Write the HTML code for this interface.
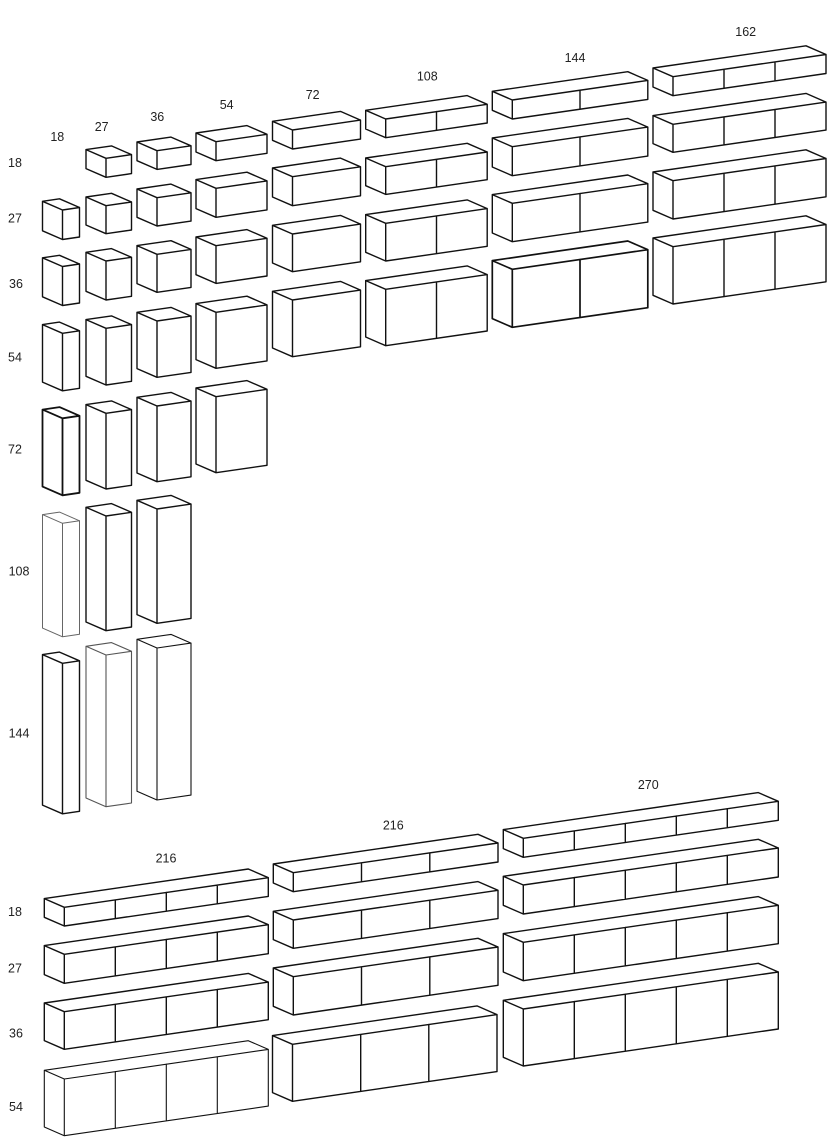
<!DOCTYPE html>
<html><head><meta charset="utf-8"><style>
html,body{margin:0;padding:0;background:#fff;}
svg{display:block;}
text{font-family:"Liberation Sans",sans-serif;font-size:12.5px;fill:#222;text-anchor:middle;}
</style></head><body>
<svg width="837" height="1145" viewBox="0 0 837 1145" xmlns="http://www.w3.org/2000/svg">
<g fill="none" stroke="#111" stroke-width="1.4" stroke-linejoin="round" stroke-linecap="round">
<!-- col 18 -->
<path d="M42.5 201.3L62.5 210L79.5 207.5L59.5 198.8ZM42.5 201.3L42.5 230.8L62.5 239.5L79.5 237L79.5 207.5M62.5 210L62.5 239.5"/>
<path d="M42.5 257.8L62.5 266.5L79.5 264L59.5 255.3ZM42.5 257.8L42.5 296.8L62.5 305.5L79.5 303L79.5 264M62.5 266.5L62.5 305.5"/>
<path d="M42.5 324.6L62.5 333.3L79.5 330.8L59.5 322.1ZM42.5 324.6L42.5 382.1L62.5 390.8L79.5 388.3L79.5 330.8M62.5 333.3L62.5 390.8"/>
<path stroke-width="1.8" d="M42.5 409.6L62.5 418.3L79.5 415.8L59.5 407.1ZM42.5 409.6L42.5 486.6L62.5 495.3L79.5 492.8L79.5 415.8M62.5 418.3L62.5 495.3"/>
<path stroke="#666" stroke-width="1" d="M42.5 514.6L62.5 523.3L79.5 520.8L59.5 512.1ZM42.5 514.6L42.5 628.1L62.5 636.8L79.5 634.3L79.5 520.8M62.5 523.3L62.5 636.8"/>
<path d="M42.5 654.6L62.5 663.3L79.5 660.8L59.5 652.1ZM42.5 654.6L42.5 805.1L62.5 813.8L79.5 811.3L79.5 660.8M62.5 663.3L62.5 813.8"/>
<!-- col 27 -->
<path d="M86 149.6L106 158.3L131.5 154.6L111.5 145.9ZM86 149.6L86 168.6L106 177.3L131.5 173.6L131.5 154.6M106 158.3L106 177.3"/>
<path d="M86 197L106 205.7L131.5 202L111.5 193.3ZM86 197L86 225L106 233.7L131.5 230L131.5 202M106 205.7L106 233.7"/>
<path d="M86 252.3L106 261L131.5 257.3L111.5 248.6ZM86 252.3L86 291.3L106 300L131.5 296.3L131.5 257.3M106 261L106 300"/>
<path d="M86 319.6L106 328.3L131.5 324.6L111.5 315.9ZM86 319.6L86 376.3L106 385L131.5 381.3L131.5 324.6M106 328.3L106 385"/>
<path d="M86 404.6L106 413.3L131.5 409.6L111.5 400.9ZM86 404.6L86 480.3L106 489L131.5 485.3L131.5 409.6M106 413.3L106 489"/>
<path d="M86 507.3L106 516L131.5 512.3L111.5 503.6ZM86 507.3L86 622L106 630.7L131.5 627L131.5 512.3M106 516L106 630.7"/>
<path stroke="#555" stroke-width="1.1" d="M86 646.3L106 655L131.5 651.3L111.5 642.6ZM86 646.3L86 798L106 806.7L131.5 803L131.5 651.3M106 655L106 806.7"/>
<!-- col 36 -->
<path d="M137 142L157 150.7L191 145.8L171 137.1ZM137 142L137 160.7L157 169.4L191 164.5L191 145.8M157 150.7L157 169.4"/>
<path d="M137 189L157 197.7L191 192.8L171 184.1ZM137 189L137 217.3L157 226L191 221.1L191 192.8M157 197.7L157 226"/>
<path d="M137 245.6L157 254.3L191 249.4L171 240.7ZM137 245.6L137 283.6L157 292.3L191 287.4L191 249.4M157 254.3L157 292.3"/>
<path d="M137 312.3L157 321L191 316.1L171 307.4ZM137 312.3L137 368.6L157 377.3L191 372.4L191 316.1M157 321L157 377.3"/>
<path d="M137 397.3L157 406L191 401.1L171 392.4ZM137 397.3L137 473L157 481.7L191 476.8L191 401.1M157 406L157 481.7"/>
<path d="M137 500.3L157 509L191 504.1L171 495.4ZM137 500.3L137 614.6L157 623.3L191 618.4L191 504.1M157 509L157 623.3"/>
<path stroke-width="1.1" d="M137 639.3L157 648L191 643.1L171 634.4ZM137 639.3L137 791.3L157 800L191 795.1L191 643.1M157 648L157 800"/>
<!-- col 54 -->
<path d="M196 133L216 141.7L267 134.3L247 125.6ZM196 133L196 152L216 160.7L267 153.3L267 134.3M216 141.7L216 160.7"/>
<path d="M196 179.6L216 188.3L267 180.9L247 172.2ZM196 179.6L196 208.6L216 217.3L267 209.9L267 180.9M216 188.3L216 217.3"/>
<path d="M196 237L216 245.7L267 238.3L247 229.6ZM196 237L196 274.7L216 283.4L267 276L267 238.3M216 245.7L216 283.4"/>
<path d="M196 303.6L216 312.3L267 304.9L247 296.2ZM196 303.6L196 359.6L216 368.3L267 360.9L267 304.9M216 312.3L216 368.3"/>
<path d="M196 388L216 396.7L267 389.3L247 380.6ZM196 388L196 464L216 472.7L267 465.3L267 389.3M216 396.7L216 472.7"/>
<!-- col 72 -->
<path d="M272.5 121.3L292.5 130L360.5 120.1L340.5 111.4ZM272.5 121.3L272.5 140.3L292.5 149L360.5 139.1L360.5 120.1M292.5 130L292.5 149"/>
<path d="M272.5 168L292.5 176.7L360.5 166.8L340.5 158.1ZM272.5 168L272.5 197L292.5 205.7L360.5 195.8L360.5 166.8M292.5 176.7L292.5 205.7"/>
<path d="M272.5 225.3L292.5 234L360.5 224.1L340.5 215.4ZM272.5 225.3L272.5 263L292.5 271.7L360.5 261.8L360.5 224.1M292.5 234L292.5 271.7"/>
<path d="M272.5 291.3L292.5 300L360.5 290.1L340.5 281.4ZM272.5 291.3L272.5 348L292.5 356.7L360.5 346.8L360.5 290.1M292.5 300L292.5 356.7"/>
<!-- col 108 -->
<path d="M365.7 110.3L385.7 119L487.2 104.3L467.2 95.6ZM365.7 110.3L365.7 129L385.7 137.7L487.2 123L487.2 104.3M385.7 119L385.7 137.7M436.5 111.6L436.5 130.3"/>
<path d="M365.7 158L385.7 166.7L487.2 152L467.2 143.3ZM365.7 158L365.7 185.7L385.7 194.4L487.2 179.7L487.2 152M385.7 166.7L385.7 194.4M436.5 159.3L436.5 187"/>
<path d="M365.7 214.6L385.7 223.3L487.2 208.6L467.2 199.9ZM365.7 214.6L365.7 252.3L385.7 261L487.2 246.3L487.2 208.6M385.7 223.3L385.7 261M436.5 215.9L436.5 253.6"/>
<path d="M365.7 280.6L385.7 289.3L487.2 274.6L467.2 265.9ZM365.7 280.6L365.7 337L385.7 345.7L487.2 331L487.2 274.6M385.7 289.3L385.7 345.7M436.5 281.9L436.5 338.3"/>
<!-- col 144 -->
<path d="M492.3 91.3L512.3 100L647.8 80.4L627.8 71.7ZM492.3 91.3L492.3 110.3L512.3 119L647.8 99.4L647.8 80.4M512.3 100L512.3 119M580 90.2L580 109.2"/>
<path d="M492.3 138L512.3 146.7L647.8 127.1L627.8 118.4ZM492.3 138L492.3 167L512.3 175.7L647.8 156.1L647.8 127.1M512.3 146.7L512.3 175.7M580 136.9L580 165.9"/>
<path d="M492.3 194.6L512.3 203.3L647.8 183.7L627.8 175ZM492.3 194.6L492.3 233L512.3 241.7L647.8 222.1L647.8 183.7M512.3 203.3L512.3 241.7M580 193.5L580 231.9"/>
<path stroke-width="1.7" d="M492.3 260.6L512.3 269.3L647.8 249.7L627.8 241ZM492.3 260.6L492.3 318.6L512.3 327.3L647.8 307.7L647.8 249.7M512.3 269.3L512.3 327.3M580 259.5L580 317.5"/>
<!-- col 162 -->
<path d="M653 68L673 76.7L826 54.5L806 45.8ZM653 68L653 87L673 95.7L826 73.5L826 54.5M673 76.7L673 95.7M724 69.3L724 88.3M775 61.9L775 80.9"/>
<path d="M653 115.6L673 124.3L826 102.1L806 93.4ZM653 115.6L653 143.6L673 152.3L826 130.1L826 102.1M673 124.3L673 152.3M724 116.9L724 144.9M775 109.5L775 137.5"/>
<path d="M653 172L673 180.7L826 158.5L806 149.8ZM653 172L653 210.3L673 219L826 196.8L826 158.5M673 180.7L673 219M724 173.3L724 211.6M775 165.9L775 204.2"/>
<path d="M653 238L673 246.7L826 224.5L806 215.8ZM653 238L653 295.3L673 304L826 281.8L826 224.5M673 246.7L673 304M724 239.3L724 296.6M775 231.9L775 289.2"/>
<!-- bottom left 216 -->
<path d="M44.3 898.6L64.3 907.3L268.3 877.7L248.3 869ZM44.3 898.6L44.3 917.3L64.3 926L268.3 896.4L268.3 877.7M64.3 907.3L64.3 926M115.3 899.9L115.3 918.6M166.3 892.5L166.3 911.2M217.3 885.1L217.3 903.8"/>
<path d="M44.3 945.6L64.3 954.3L268.3 924.7L248.3 916ZM44.3 945.6L44.3 974.6L64.3 983.3L268.3 953.7L268.3 924.7M64.3 954.3L64.3 983.3M115.3 946.9L115.3 975.9M166.3 939.5L166.3 968.5M217.3 932.1L217.3 961.1"/>
<path d="M44.3 1003L64.3 1011.7L268.3 982.1L248.3 973.4ZM44.3 1003L44.3 1040.6L64.3 1049.3L268.3 1019.7L268.3 982.1M64.3 1011.7L64.3 1049.3M115.3 1004.3L115.3 1041.9M166.3 996.9L166.3 1034.5M217.3 989.5L217.3 1027.1"/>
<path stroke-width="1.1" d="M44.3 1070.3L64.3 1079L268.3 1049.4L248.3 1040.7ZM44.3 1070.3L44.3 1127L64.3 1135.7L268.3 1106.1L268.3 1049.4M64.3 1079L64.3 1135.7M115.3 1071.6L115.3 1128.3M166.3 1064.2L166.3 1120.9M217.3 1056.8L217.3 1113.5"/>
<!-- bottom middle 216 -->
<path d="M273.3 864L293.3 872.7L498 843L478 834.3ZM273.3 864L273.3 883L293.3 891.7L498 862L498 843M293.3 872.7L293.3 891.7M361.5 862.8L361.5 881.8M429.8 852.9L429.8 871.9"/>
<path d="M273.3 911.3L293.3 920L498 890.3L478 881.6ZM273.3 911.3L273.3 939.6L293.3 948.3L498 918.6L498 890.3M293.3 920L293.3 948.3M361.5 910.1L361.5 938.4M429.8 900.2L429.8 928.5"/>
<path d="M273.3 968L293.3 976.7L498 947L478 938.3ZM273.3 968L273.3 1006.3L293.3 1015L498 985.3L498 947M293.3 976.7L293.3 1015M361.5 966.8L361.5 1005.1M429.8 956.9L429.8 995.2"/>
<path d="M272.5 1035.6L292.5 1044.3L497 1014.6L477 1005.9ZM272.5 1035.6L272.5 1092.6L292.5 1101.3L497 1071.6L497 1014.6M292.5 1044.3L292.5 1101.3M360.7 1034.4L360.7 1091.4M428.8 1024.5L428.8 1081.5"/>
<!-- bottom right 270 -->
<path d="M503.3 829.6L523.3 838.3L778.3 801.3L758.3 792.6ZM503.3 829.6L503.3 848.6L523.3 857.3L778.3 820.3L778.3 801.3M523.3 838.3L523.3 857.3M574.3 830.9L574.3 849.9M625.3 823.5L625.3 842.5M676.3 816.1L676.3 835.1M727.3 808.7L727.3 827.7"/>
<path d="M503.3 876.3L523.3 885L778.3 848L758.3 839.3ZM503.3 876.3L503.3 905.3L523.3 914L778.3 877L778.3 848M523.3 885L523.3 914M574.3 877.6L574.3 906.6M625.3 870.2L625.3 899.2M676.3 862.8L676.3 891.8M727.3 855.4L727.3 884.4"/>
<path d="M503.3 933.6L523.3 942.3L778.3 905.3L758.3 896.6ZM503.3 933.6L503.3 972L523.3 980.7L778.3 943.7L778.3 905.3M523.3 942.3L523.3 980.7M574.3 934.9L574.3 973.3M625.3 927.5L625.3 965.9M676.3 920.1L676.3 958.5M727.3 912.7L727.3 951.1"/>
<path d="M503.3 1000.3L523.3 1009L778.3 972L758.3 963.3ZM503.3 1000.3L503.3 1057.3L523.3 1066L778.3 1029L778.3 972M523.3 1009L523.3 1066M574.3 1001.6L574.3 1058.6M625.3 994.2L625.3 1051.2M676.3 986.8L676.3 1043.8M727.3 979.4L727.3 1036.4"/>
</g>
<g>
<text x="57.3" y="141">18</text>
<text x="101.7" y="131">27</text>
<text x="157.3" y="121">36</text>
<text x="226.7" y="109">54</text>
<text x="312.7" y="99">72</text>
<text x="427.3" y="80.5">108</text>
<text x="575" y="62">144</text>
<text x="745.7" y="36">162</text>
<text x="15" y="167">18</text>
<text x="15" y="222.5">27</text>
<text x="16" y="288">36</text>
<text x="15" y="361.5">54</text>
<text x="15" y="453.5">72</text>
<text x="19" y="575.5">108</text>
<text x="19" y="737.5">144</text>
<text x="166" y="862.5">216</text>
<text x="393.3" y="829.5">216</text>
<text x="648.3" y="789">270</text>
<text x="15" y="916">18</text>
<text x="15" y="972.5">27</text>
<text x="16" y="1037.5">36</text>
<text x="16" y="1111">54</text>
</g>
</svg>
</body></html>
